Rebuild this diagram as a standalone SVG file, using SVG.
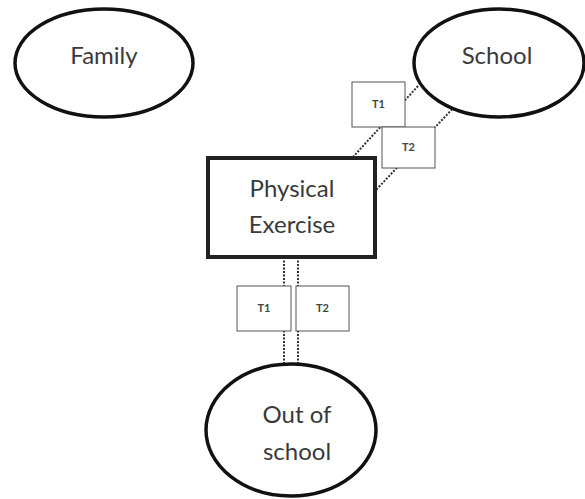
<svg xmlns="http://www.w3.org/2000/svg" width="585" height="499" viewBox="0 0 585 499">
<style>
.bg{fill:#fff}
.oval{fill:#fff;stroke:#111;stroke-width:3.5}
.main{fill:#fff;stroke:#222;stroke-width:4}
.tbox{fill:#fff;stroke:#555;stroke-width:1}
.lbl{font-family:Lato,"Open Sans",sans-serif;font-size:24px;fill:#3a3a3a;text-anchor:middle}
.t{font-family:Lato,"Open Sans",sans-serif;font-size:11px;font-weight:bold;fill:#444;text-anchor:middle}
.dot{stroke:#333;stroke-width:2;stroke-dasharray:2 1.5;fill:none}
</style>
<rect class="bg" width="585" height="499"/>
<g id="connectors">
<line class="dot" x1="418" y1="86" x2="352" y2="158"/>
<line class="dot" x1="457" y1="104" x2="376" y2="190"/>
<line class="dot" x1="284" y1="257" x2="284" y2="364"/>
<line class="dot" x1="298" y1="257" x2="298" y2="364"/>
</g>
<g id="family"><ellipse class="oval" cx="104" cy="63" rx="89" ry="54"/><text class="lbl" x="104" y="64">Family</text></g>
<g id="school"><ellipse class="oval" cx="499" cy="63" rx="85" ry="54"/><text class="lbl" x="497" y="64">School</text></g>
<g id="physical-exercise"><rect class="main" x="208" y="158" width="167" height="99"/><text class="lbl" x="292" y="197">Physical</text><text class="lbl" x="292" y="233">Exercise</text></g>
<g id="out-of-school"><ellipse class="oval" cx="291" cy="430" rx="85" ry="66"/><text class="lbl" x="297" y="423">Out of</text><text class="lbl" x="297" y="460">school</text></g>
<g id="school-t1"><rect class="tbox" x="352" y="82" width="53" height="45"/><text class="t" x="378.5" y="108">T1</text></g>
<g id="school-t2"><rect class="tbox" x="382" y="127" width="53" height="41"/><text class="t" x="408.5" y="151">T2</text></g>
<g id="out-t1"><rect class="tbox" x="237" y="286" width="54" height="45"/><text class="t" x="264" y="312">T1</text></g>
<g id="out-t2"><rect class="tbox" x="296" y="286" width="53" height="45"/><text class="t" x="322.5" y="312">T2</text></g>
</svg>
